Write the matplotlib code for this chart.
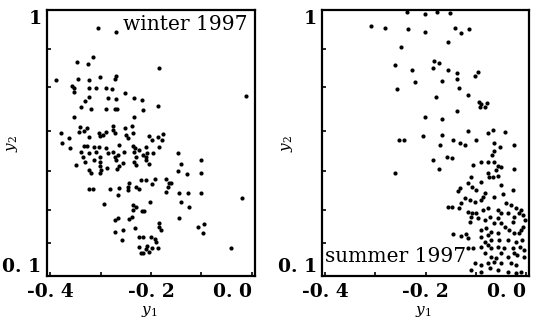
import matplotlib
matplotlib.use("Agg")
import matplotlib.pyplot as plt

plt.rcParams["font.family"] = "DejaVu Serif"
plt.rcParams["mathtext.fontset"] = "dejavuserif"

# winter 1997 (y1, y2)
winter_y1 = [
    -0.305, -0.269, -0.314, -0.346, -0.324, -0.184, -0.388, -0.345, -0.323, -0.302,
    -0.269, -0.272, -0.356, -0.353, -0.322, -0.309, -0.290, -0.277, -0.353, -0.251,
    -0.322, -0.330, -0.286, -0.270, -0.233, -0.218, -0.338, -0.318, -0.290, -0.272,
    -0.267, -0.187, -0.216, -0.353, -0.233, -0.341, -0.327, -0.276, -0.276, -0.272,
    -0.251, -0.238, -0.379, -0.343, -0.332, -0.304, -0.295, -0.289, -0.249, -0.236,
    -0.203, -0.187, -0.177, -0.363, -0.322, -0.301, -0.246, -0.197, -0.178, -0.376,
    -0.333, -0.327, -0.312, -0.303, -0.289, -0.264, -0.236, -0.231, -0.210, -0.185,
    -0.361, -0.338, -0.322, -0.309, -0.286, -0.276, -0.253, -0.233, -0.223, -0.216,
    -0.207, -0.195, -0.147, -0.335, -0.302, -0.272, -0.266, -0.230, -0.210, -0.101,
    -0.330, -0.312, -0.302, -0.270, -0.256, -0.233, -0.210, -0.141, -0.348, -0.302,
    -0.264, -0.230, -0.203, -0.322, -0.299, -0.288, -0.268, -0.147, -0.318, -0.302,
    -0.128, -0.101, -0.220, -0.210, -0.193, -0.170, -0.164, -0.243, -0.246, -0.230,
    -0.197, -0.167, -0.161, -0.322, -0.315, -0.282, -0.263, -0.246, -0.223, -0.170,
    -0.266, -0.144, -0.126, -0.101, -0.294, -0.236, -0.230, -0.202, -0.141, -0.124,
    -0.236, -0.218, -0.213, -0.238, -0.243, -0.272, -0.266, -0.144, -0.232, -0.184,
    -0.184, -0.181, -0.095, -0.106, -0.097, -0.272, -0.256, -0.257, -0.223, -0.215,
    -0.200, -0.193, -0.190, -0.224, -0.210, -0.197, -0.187, -0.207, -0.220, -0.215,
    -0.203, -0.041, -0.019, -0.011,
]
winter_y2 = [
    0.941, 0.925, 0.842, 0.825, 0.816, 0.803, 0.763, 0.767, 0.763, 0.775,
    0.777, 0.766, 0.743, 0.738, 0.738, 0.738, 0.738, 0.734, 0.722, 0.718,
    0.707, 0.693, 0.701, 0.699, 0.701, 0.696, 0.673, 0.664, 0.664, 0.664,
    0.667, 0.675, 0.662, 0.639, 0.637, 0.605, 0.600, 0.608, 0.594, 0.583,
    0.602, 0.608, 0.583, 0.588, 0.592, 0.583, 0.577, 0.586, 0.577, 0.583,
    0.574, 0.572, 0.579, 0.568, 0.572, 0.574, 0.568, 0.560, 0.560, 0.549,
    0.541, 0.541, 0.538, 0.538, 0.532, 0.543, 0.541, 0.532, 0.538, 0.538,
    0.534, 0.521, 0.515, 0.521, 0.515, 0.521, 0.521, 0.521, 0.526, 0.509,
    0.515, 0.517, 0.517, 0.504, 0.504, 0.504, 0.509, 0.504, 0.504, 0.493,
    0.487, 0.493, 0.487, 0.493, 0.481, 0.487, 0.493, 0.479, 0.476, 0.472,
    0.472, 0.476, 0.479, 0.459, 0.459, 0.464, 0.462, 0.455, 0.447, 0.447,
    0.444, 0.447, 0.425, 0.425, 0.427, 0.427, 0.416, 0.416, 0.402, 0.402,
    0.410, 0.402, 0.416, 0.393, 0.393, 0.393, 0.397, 0.391, 0.393, 0.385,
    0.374, 0.380, 0.380, 0.380, 0.344, 0.340, 0.335, 0.352, 0.352, 0.335,
    0.323, 0.321, 0.321, 0.301, 0.292, 0.290, 0.295, 0.295, 0.261, 0.280,
    0.267, 0.256, 0.276, 0.267, 0.244, 0.250, 0.256, 0.222, 0.233, 0.231,
    0.231, 0.226, 0.216, 0.199, 0.190, 0.194, 0.194, 0.202, 0.179, 0.177,
    0.182, 0.194, 0.365, 0.709,
]

# summer 1997 (y1, y2)
summer_y1 = [
    -0.237, -0.201, -0.178, -0.151, -0.309, -0.281, -0.235, -0.201, -0.141, -0.130,
    -0.113, -0.155, -0.248, -0.260, -0.184, -0.173, -0.227, -0.186, -0.155, -0.138,
    -0.095, -0.102, -0.222, -0.168, -0.138, -0.257, -0.134, -0.179, -0.116, -0.094,
    -0.089, -0.082, -0.077, -0.092, -0.201, -0.168, -0.138, -0.253, -0.243, -0.205,
    -0.168, -0.145, -0.132, -0.122, -0.116, -0.099, -0.076, -0.066, -0.042, -0.171,
    -0.063, -0.051, -0.023, -0.186, -0.157, -0.148, -0.063, -0.068, -0.173, -0.105,
    -0.089, -0.076, -0.063, -0.056, -0.049, -0.023, -0.059, -0.261, -0.076, -0.066,
    -0.056, -0.109, -0.115, -0.107, -0.099, -0.132, -0.135, -0.082, -0.086, -0.122,
    -0.112, -0.102, -0.089, -0.063, -0.039, -0.030, -0.020, -0.013, -0.010, -0.155,
    -0.148, -0.130, -0.134, -0.115, -0.107, -0.099, -0.086, -0.076, -0.056, -0.049,
    -0.036, -0.023, -0.005, -0.002, -0.109, -0.095, -0.082, -0.072, -0.056, -0.112,
    -0.026, -0.063, -0.049, -0.042, -0.033, -0.023, -0.013, -0.010, -0.005, -0.145,
    -0.130, -0.120, -0.115, -0.089, -0.079, -0.069, -0.056, -0.076, -0.089, -0.082,
    -0.069, -0.053, -0.036, -0.020, -0.007, -0.115, -0.105, -0.089, -0.076, -0.069,
    -0.056, -0.043, -0.026, -0.011, -0.003, -0.082, -0.069, -0.059, -0.049, -0.036,
    -0.023, -0.017, -0.003, -0.102, -0.089, -0.076, -0.063, -0.049, -0.030, -0.020,
    -0.109, -0.089, -0.072, -0.056, -0.036, -0.020, -0.010, -0.074, -0.049, -0.089,
    -0.026, -0.046,
]
summer_y2 = [
    0.995, 0.987, 0.994, 0.992, 0.946, 0.941, 0.935, 0.925, 0.941, 0.923,
    0.935, 0.893, 0.876, 0.814, 0.828, 0.822, 0.797, 0.803, 0.799, 0.786,
    0.791, 0.778, 0.758, 0.760, 0.766, 0.732, 0.737, 0.705, 0.713, 0.690,
    0.682, 0.673, 0.684, 0.673, 0.639, 0.631, 0.658, 0.562, 0.562, 0.574,
    0.577, 0.562, 0.551, 0.543, 0.592, 0.562, 0.585, 0.594, 0.588, 0.543,
    0.549, 0.538, 0.543, 0.493, 0.504, 0.498, 0.524, 0.509, 0.461, 0.476,
    0.485, 0.487, 0.485, 0.473, 0.468, 0.461, 0.459, 0.450, 0.447, 0.436,
    0.440, 0.436, 0.414, 0.402, 0.391, 0.397, 0.389, 0.380, 0.368, 0.363,
    0.357, 0.352, 0.357, 0.368, 0.346, 0.340, 0.329, 0.312, 0.323, 0.335,
    0.335, 0.348, 0.329, 0.318, 0.312, 0.314, 0.323, 0.329, 0.323, 0.312,
    0.312, 0.301, 0.306, 0.290, 0.301, 0.295, 0.290, 0.299, 0.295, 0.284,
    0.284, 0.278, 0.278, 0.267, 0.256, 0.244, 0.244, 0.256, 0.267, 0.242,
    0.236, 0.242, 0.227, 0.256, 0.261, 0.250, 0.244, 0.239, 0.231, 0.216,
    0.222, 0.222, 0.222, 0.216, 0.222, 0.194, 0.194, 0.199, 0.205, 0.194,
    0.199, 0.194, 0.194, 0.199, 0.188, 0.177, 0.165, 0.160, 0.177, 0.165,
    0.177, 0.171, 0.163, 0.143, 0.137, 0.143, 0.149, 0.143, 0.143, 0.137,
    0.120, 0.115, 0.126, 0.120, 0.115, 0.109, 0.115, 0.434, 0.408, 0.419,
    0.391, 0.376,
]

x_ticks = [-0.4, -0.2, 0.0]
x_ticklabels = ["-0. 4", "-0. 2", "0. 0"]
x_minor = [-0.3, -0.1]
y_ticks = [0.1, 1.0]
y_ticklabels = ["0. 1", "1"]
y_minor = [0.21, 0.325, 0.455, 0.59, 0.74, 0.87]


def draw_panel(ax, x, y, label, label_pos):
    ax.plot(x, y, "o", color="black", markersize=3.0, markeredgewidth=0)
    ax.set_xlim(-0.406, 0.006)
    ax.set_ylim(0.1, 1.0)
    ax.set_xticks(x_ticks)
    ax.set_xticklabels(x_ticklabels, fontsize=13.5, fontweight="bold")
    ax.set_xticks(x_minor, minor=True)
    ax.set_yticks(y_ticks)
    ax.set_yticklabels(y_ticklabels, fontsize=13.5, fontweight="bold")
    ax.set_yticks(y_minor, minor=True)
    ax.tick_params(which="both", direction="in", length=3, width=1.2)
    ax.tick_params(axis="x", which="major", pad=5)
    ax.tick_params(axis="y", which="major", pad=4, length=0)
    xl = ax.get_xticklabels()
    xl[-1].set_ha("right")
    yl = ax.get_yticklabels()
    yl[0].set_va("bottom")
    yl[-1].set_va("top")
    for s in ax.spines.values():
        s.set_linewidth(1.6)
    ax.set_xlabel(r"$y_1$", fontsize=11)
    ax.set_ylabel(r"$y_2$", fontsize=11)
    ax.xaxis.set_label_coords(0.49, -0.105)
    ax.yaxis.set_label_coords(-0.13, 0.5)
    ax.text(label_pos[0], label_pos[1], label, transform=ax.transAxes,
            fontsize=14.5, ha="left", va="center")


fig = plt.figure(figsize=(5.47, 3.27), dpi=100)
ax1 = fig.add_axes([0.086, 0.156, 0.380, 0.813])
ax2 = fig.add_axes([0.589, 0.156, 0.378, 0.813])
draw_panel(ax1, winter_y1, winter_y2, "winter 1997", (0.365, 0.947))
draw_panel(ax2, summer_y1, summer_y2, "summer 1997", (0.015, 0.075))
fig.savefig("out.png", dpi=100)
